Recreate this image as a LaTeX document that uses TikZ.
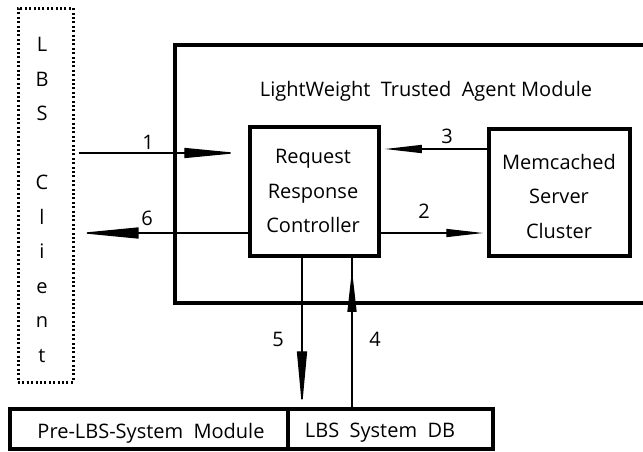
\documentclass[tikz,border=0pt]{standalone}
\usepackage{fontspec}
\setmainfont{Open Sans}
\usetikzlibrary{arrows.meta,calc}
\newcommand\myfs{\fontsize{20}{34.5}\selectfont}
\begin{document}
\begin{tikzpicture}[x=1pt,y=-1pt,
  box/.style={draw, line width=3.5pt, inner sep=0pt},
  txt/.style={font=\myfs, align=center, inner sep=0pt},
  conn/.style={line width=1.4pt},
  dotbox/.style={draw, line width=3pt, dash pattern=on 2pt off 2.4pt, inner sep=0pt}]
\useasboundingbox (0,0) rectangle (643,451);
% container
\draw[line width=3.8pt] (648,45) -- (175,45) -- (175,303) -- (648,303);
\node[txt] (title) at (426,91) {LightWeight\ \ Trusted\ \ Agent Module};
% LBS client
\node[dotbox, minimum width=55pt, minimum height=374pt] (lbs) at (45.5,195) {};
\node[txt] (lbst) at (42,200) {L\\B\\S\\[34.5pt]C\\l\\i\\e\\n\\t};
% controller
\node[box, minimum width=129pt, minimum height=129pt] (rrc) at (314.5,191.5) {};
\node[txt] (rrct) at (313,191) {Request\\Response\\Controller};
% memcached
\node[box, minimum width=141pt, minimum height=127pt] (mem) at (559.5,192.5) {};
\node[txt] (memt) at (559,196) {Memcached\\Server\\Cluster};
% bottom boxes
\node[box, minimum width=278pt, minimum height=40pt] (pre) at (149,429) {};
\node[txt] (pret) at (151,433) {Pre-LBS-System\ \ Module};
\node[box, minimum width=205pt, minimum height=40pt] (db) at (390.5,429) {};
\node[txt] (dbt) at (380,433) {LBS\ \ System\ \ DB};
% helper coordinates
\coordinate (y1) at (0,153);
\coordinate (y6) at (0,233);
\coordinate (y3) at (0,149);
\coordinate (y2) at (0,233);
\coordinate (x5) at (302,0);
\coordinate (x4) at (352,0);
% arrows
\draw[conn, -{Triangle[length=54pt,width=10pt]}] ($(lbs.east|-y1)+(4,0)$) -- ($(rrc.west|-y1)+(-10,0)$);
\draw[conn, -{Triangle[length=59pt,width=11pt]}] (rrc.west|-y6) -- ($(lbs.east|-y6)+(5,0)$);
\draw[conn, -{Triangle[length=37pt,width=8pt]}] (mem.west|-y3) -- ($(rrc.east|-y3)+(4,0)$);
\draw[conn, -{Triangle[length=37pt,width=8pt]}] (rrc.east|-y2) -- ($(mem.west|-y2)+(-4,0)$);
\draw[conn, -{Triangle[length=56pt,width=10pt]}] (rrc.south-|x5) -- (db.north-|x5);
\draw[conn] (db.north-|x4) -- (rrc.south-|x4);
\draw[conn, -{Triangle[length=42pt,width=9pt]}] (db.north-|x4) -- ($(rrc.south-|x4)+(0,12)$);
% labels
\node[txt] (l1) at (148,142) {1};
\node[txt] (l6) at (147,218) {6};
\node[txt] (l3) at (447,136) {3};
\node[txt] (l2) at (424,211) {2};
\node[txt] (l5) at (278,339) {5};
\node[txt] (l4) at (375,339) {4};
\end{tikzpicture}
\end{document}
